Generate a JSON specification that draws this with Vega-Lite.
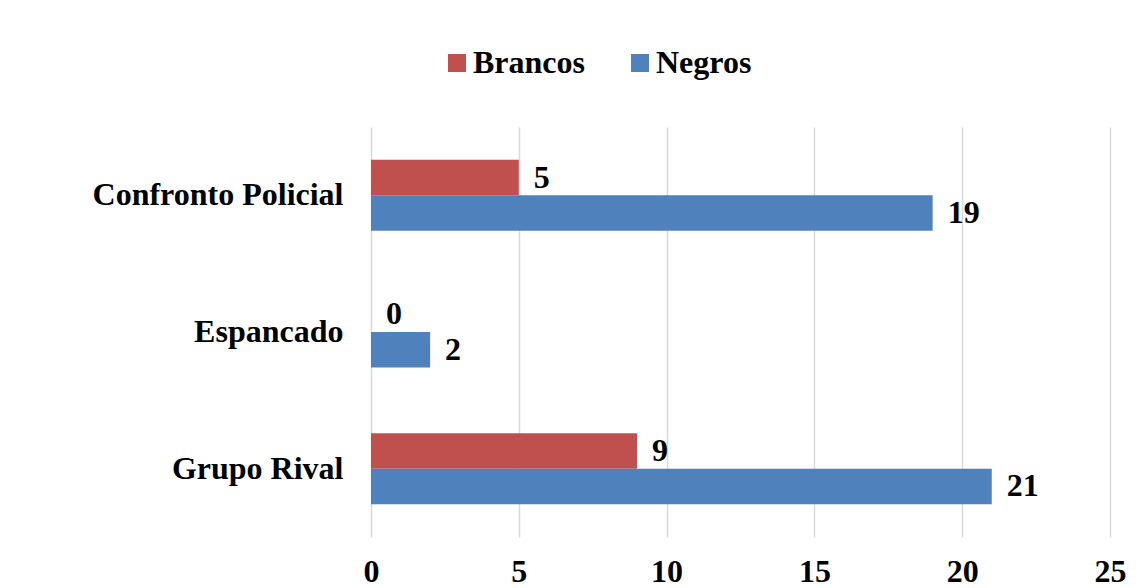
{
  "$schema": "https://vega.github.io/schema/vega-lite/v6.json",
  "width": 739,
  "height": 410,
  "autosize": {"type": "none"},
  "padding": {"left": 371, "top": 127, "right": 37, "bottom": 51},
  "background": "white",
  "data": {
    "values": [
      {"cat": "Confronto Policial", "grupo": "Brancos", "valor": 5},
      {"cat": "Confronto Policial", "grupo": "Negros", "valor": 19},
      {"cat": "Espancado", "grupo": "Brancos", "valor": 0},
      {"cat": "Espancado", "grupo": "Negros", "valor": 2},
      {"cat": "Grupo Rival", "grupo": "Brancos", "valor": 9},
      {"cat": "Grupo Rival", "grupo": "Negros", "valor": 21}
    ]
  },
  "config": {
    "view": {"stroke": null},
    "font": "Liberation Serif"
  },
  "encoding": {
    "y": {
      "field": "cat",
      "type": "nominal",
      "sort": ["Confronto Policial", "Espancado", "Grupo Rival"],
      "scale": {"paddingInner": 0.48, "paddingOuter": 0.24},
      "axis": {
        "title": null,
        "domain": false,
        "ticks": false,
        "labelPadding": 28,
        "labelFont": "Liberation Serif",
        "labelFontSize": 32,
        "labelFontWeight": "bold",
        "labelColor": "#000000",
        "labelLimit": 400
      }
    },
    "yOffset": {
      "field": "grupo",
      "type": "nominal",
      "sort": ["Brancos", "Negros"],
      "scale": {"paddingInner": 0, "paddingOuter": 0}
    },
    "x": {
      "field": "valor",
      "type": "quantitative",
      "scale": {"domain": [0, 25], "nice": false},
      "axis": {
        "title": null,
        "values": [0, 5, 10, 15, 20, 25],
        "domain": false,
        "ticks": false,
        "grid": true,
        "gridColor": "#d9d9d9",
        "gridWidth": 1.5,
        "labelPadding": 19,
        "labelFont": "Liberation Serif",
        "labelFontSize": 32,
        "labelFontWeight": "bold",
        "labelColor": "#000000",
        "labelFlush": false
      }
    }
  },
  "layer": [
    {
      "mark": {"type": "bar"},
      "encoding": {
        "color": {
          "field": "grupo",
          "type": "nominal",
          "sort": ["Brancos", "Negros"],
          "scale": {"domain": ["Brancos", "Negros"], "range": ["#C0504D", "#4F81BD"]},
          "legend": {
            "title": null,
            "orient": "none",
            "direction": "horizontal",
            "legendX": 70,
            "legendY": -80,
            "symbolType": "square",
            "symbolSize": 324,
            "symbolStrokeWidth": 0,
            "labelFont": "Liberation Serif",
            "labelFontSize": 32,
            "labelFontWeight": "bold",
            "labelColor": "#000000",
            "labelOffset": 0,
            "columnPadding": 39
          }
        }
      }
    },
    {
      "mark": {
        "type": "text",
        "align": "left",
        "baseline": "middle",
        "dx": 15,
        "font": "Liberation Serif",
        "fontSize": 32,
        "fontWeight": "bold",
        "color": "#000000"
      },
      "encoding": {
        "text": {"field": "valor", "type": "quantitative"}
      }
    }
  ]
}
